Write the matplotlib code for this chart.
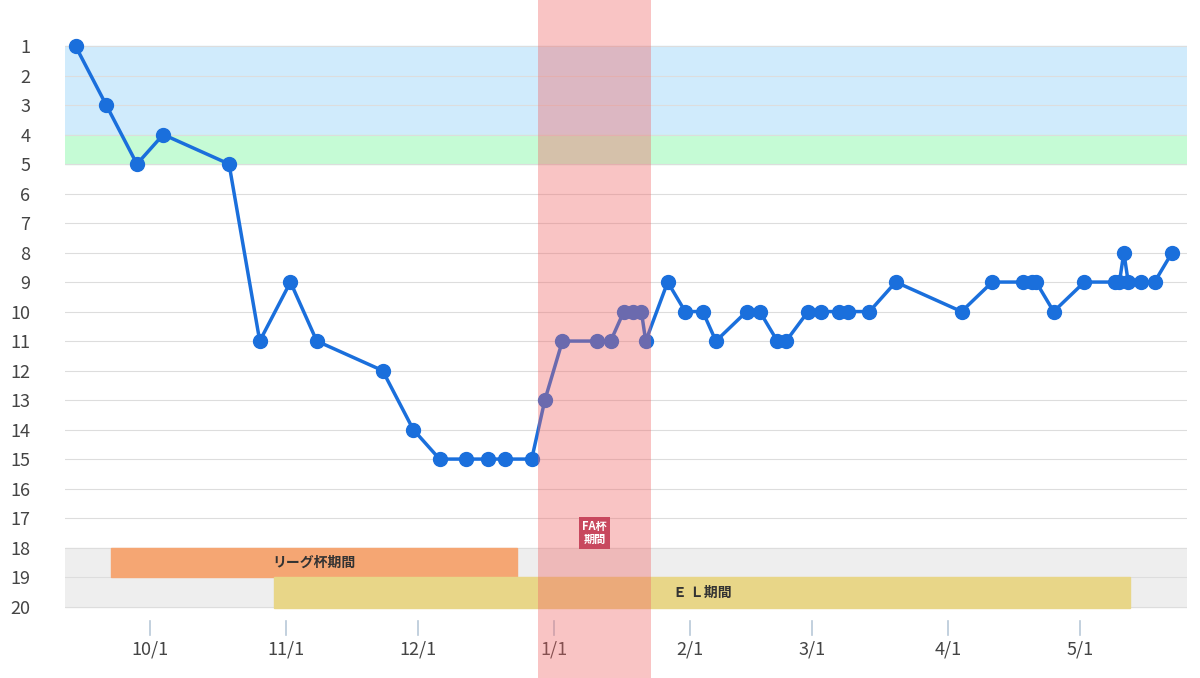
import matplotlib
matplotlib.use("Agg")
import matplotlib.pyplot as plt
from matplotlib.patches import Rectangle

plt.rcParams['font.family'] = ['Noto Sans CJK JP', 'DejaVu Sans']

# days from Oct 1 and league position
days = [-17, -10, -3, 3, 18, 25, 32, 38, 53, 60, 66, 72, 77, 81, 87, 90, 94, 102, 105,
        108, 110, 112, 113, 118, 122, 126, 129, 136, 139, 143, 145, 150, 153, 157, 159,
        164, 170, 185, 192, 199, 201, 202, 206, 213, 220, 221, 222, 223, 226, 229, 233]
ranks = [1, 3, 5, 4, 5, 11, 9, 11, 12, 14, 15, 15, 15, 15, 15, 13, 11, 11, 11,
         10, 10, 10, 11, 9, 10, 10, 11, 10, 10, 11, 11, 10, 10, 10, 10,
         10, 9, 10, 9, 9, 9, 9, 10, 9, 9, 9, 8, 9, 9, 9, 8]
month_days = [0, 31, 61, 92, 123, 151, 182, 212]
month_labels = ["10/1", "11/1", "12/1", "1/1", "2/1", "3/1", "4/1", "5/1"]
fa_period = (88.4, 114.2)
league_cup = (-8.9, 83.7)
el_period = (28.3, 223.4)

fig = plt.figure(figsize=(12, 6.78), dpi=100)
ax = fig.add_axes([65/1200, 0, (1187-65)/1200, 1])
x0, x1 = -19.4, 236.4
ax.set_xlim(x0, x1)
ax.set_ylim(22.42, -0.56)

ax.axhspan(1, 4, color="#d0ebfc", zorder=0)
ax.axhspan(4, 5, color="#c5fbd5", zorder=0)
ax.axhspan(18, 20, color="#eeeeee", zorder=0)
for r in range(1, 21):
    ax.axhline(r, color="#dddddd", lw=0.8, zorder=0.5)

ax.add_patch(Rectangle((league_cup[0], 18), league_cup[1]-league_cup[0], 1, color="#f5a673", zorder=1))
ax.text(sum(league_cup)/2, 18.5, "リーグ杯期間", ha="center", va="center", fontsize=10, fontweight="bold", color="#333", zorder=2)
ax.add_patch(Rectangle((el_period[0], 19), el_period[1]-el_period[0], 1.05, color="#e8d688", zorder=1))
ax.text(sum(el_period)/2, 19.55, "Ｅ Ｌ期間", ha="center", va="center", fontsize=10, fontweight="bold", color="#333", zorder=2)

ax.plot(days, ranks, color="#1a6fdc", lw=2.5, marker="o", ms=10, zorder=3)
ax.axvspan(*fa_period, color="#f06464", alpha=0.38, lw=0, zorder=4)
ax.text(sum(fa_period)/2, 17.5, "FA杯\n期間", ha="center", va="center", fontsize=8, fontweight="bold",
        color="white", linespacing=1.0, zorder=5,
        bbox=dict(boxstyle="square,pad=0.25", fc="#c8485e", ec="none"))

ax.set_yticks(range(1, 21))
ax.set_yticklabels([str(r) for r in range(1, 21)], fontsize=13, color="#444")
ax.tick_params(axis="y", length=0, pad=25)
for lab in ax.get_yticklabels():
    lab.set_horizontalalignment("right")
ax.set_xticks([])
for d, lab in zip(month_days, month_labels):
    ax.plot([d, d], [20.5, 20.95], color="#b8c8d8", lw=1.2, zorder=1)
    ax.text(d, 21.45, lab, ha="center", va="center", fontsize=13, color="#444")
for s in ax.spines.values():
    s.set_visible(False)

fig.savefig("out.png", dpi=100)
